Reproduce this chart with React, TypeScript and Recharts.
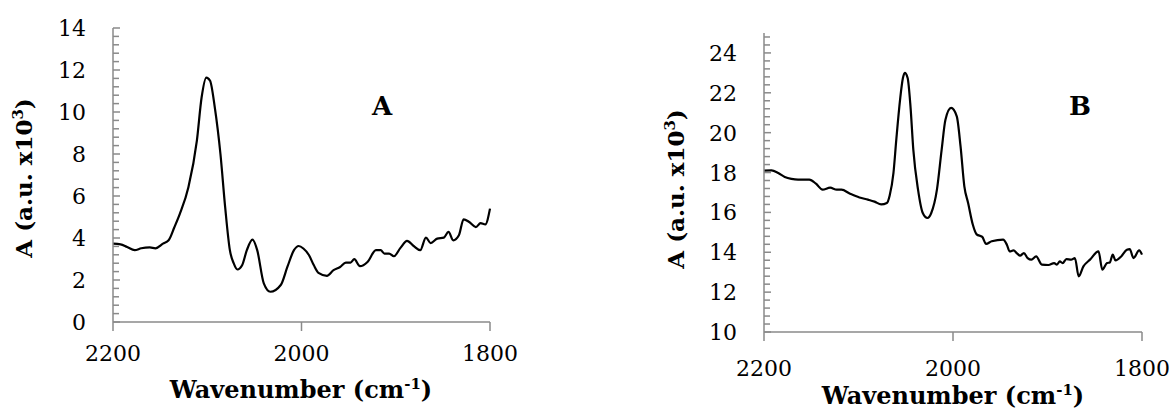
import { LineChart, Line, XAxis, YAxis } from 'recharts';

// panel A
const wnA = [2200, 2192, 2185, 2177, 2170, 2161, 2155, 2147, 2141, 2135, 2129, 2120, 2111, 2106, 2101, 2097, 2092, 2086, 2081, 2076, 2072, 2068, 2063, 2058, 2052, 2047, 2040, 2033, 2022, 2015, 2008, 2003, 1998, 1992, 1987, 1982, 1973, 1966, 1959, 1953, 1948, 1944, 1938, 1930, 1921, 1916, 1912, 1907, 1902, 1895, 1888, 1881, 1874, 1868, 1863, 1856, 1849, 1844, 1839, 1833, 1828, 1822, 1815, 1810, 1805, 1800];
const absA = [3.73, 3.7, 3.57, 3.42, 3.51, 3.55, 3.51, 3.73, 3.89, 4.5, 5.16, 6.42, 8.64, 10.69, 11.64, 11.49, 10.22, 8.0, 5.47, 3.42, 2.8, 2.5, 2.7, 3.42, 3.92, 3.42, 1.84, 1.44, 1.76, 2.62, 3.42, 3.62, 3.5, 3.18, 2.71, 2.34, 2.2, 2.47, 2.62, 2.83, 2.83, 2.99, 2.66, 2.86, 3.42, 3.42, 3.26, 3.26, 3.13, 3.53, 3.86, 3.62, 3.42, 4.02, 3.76, 3.97, 4.02, 4.29, 3.89, 4.13, 4.89, 4.76, 4.52, 4.71, 4.65, 5.4];

// panel B
const wnB = [2200, 2192, 2185, 2178, 2171, 2164, 2152, 2145, 2138, 2130, 2123, 2118, 2109, 2099, 2090, 2083, 2076, 2070, 2067, 2063, 2060, 2056, 2053, 2051, 2048, 2045, 2042, 2037, 2032, 2027, 2023, 2017, 2012, 2008, 2002, 1996, 1992, 1988, 1984, 1979, 1975, 1969, 1965, 1959, 1947, 1943, 1940, 1936, 1932, 1929, 1925, 1921, 1917, 1912, 1906, 1899, 1893, 1890, 1887, 1884, 1880, 1875, 1871, 1867, 1862, 1855, 1846, 1842, 1837, 1834, 1831, 1828, 1822, 1816, 1813, 1809, 1803, 1800];
const absB = [18.1, 18.11, 17.98, 17.78, 17.68, 17.64, 17.64, 17.44, 17.14, 17.24, 17.14, 17.14, 16.94, 16.75, 16.64, 16.54, 16.4, 16.47, 16.85, 17.98, 19.65, 21.66, 22.74, 23.0, 22.74, 21.32, 19.15, 17.14, 15.97, 15.72, 15.97, 17.14, 19.15, 20.65, 21.24, 20.82, 19.31, 17.31, 16.47, 15.38, 14.9, 14.77, 14.42, 14.55, 14.63, 14.38, 14.04, 14.09, 13.93, 13.83, 13.96, 13.71, 13.63, 13.79, 13.38, 13.36, 13.46, 13.38, 13.54, 13.46, 13.66, 13.63, 13.71, 12.79, 13.29, 13.63, 14.04, 13.13, 13.46, 13.49, 13.88, 13.59, 13.79, 14.13, 14.16, 13.71, 14.09, 13.88];

const xTicks = [2200, 2000, 1800];
const yTicksA = [0, 2, 4, 6, 8, 10, 12, 14];
const yTicksB = [10, 12, 14, 16, 18, 20, 22, 24];

const AXIS = '#8a8a8a';
const FONT = '"DejaVu Serif", serif';

// minor tick every 0.4 unit, labels only on the major values
const minorTicks = (from: number, to: number) => {
  const out: number[] = [];
  for (let i = 0; from + i * 0.4 <= to + 1e-6; i++) out.push(Math.round((from + i * 0.4) * 10) / 10);
  return out;
};

const YTick = (labels: number[]) => (props: any) => {
  const { x, y, payload } = props;
  const major = labels.includes(payload.value);
  return (
    <g>
      <line x1={x} x2={x + (major ? 7 : 6)} y1={y} y2={y} stroke={AXIS} strokeWidth={1.5} />
      {major && (
        <text x={x - 27} y={y + 8} textAnchor="end" fontFamily={FONT} fontSize={22} fill="#000">
          {payload.value}
        </text>
      )}
    </g>
  );
};

const XTick = (gap: number) => (props: any) => {
  const { x, y, payload } = props;
  return (
    <g>
      <line x1={x} x2={x} y1={y} y2={y + 9} stroke={AXIS} strokeWidth={1.5} />
      <text x={x} y={y + gap} textAnchor="middle" fontFamily={FONT} fontSize={22} fill="#000">
        {payload.value}
      </text>
    </g>
  );
};

const Panel = ({ wn, ab, domain, labels, margin, width, gap }: any) => {
  const data = wn.map((w: number, i: number) => ({ w, a: ab[i] }));
  return (
    <LineChart width={width} height={410} data={data} margin={margin}>
      <XAxis
        type="number"
        dataKey="w"
        domain={[1800, 2200]}
        reversed
        ticks={xTicks}
        interval={0}
        height={30}
        tickSize={0}
        tickMargin={0}
        axisLine={{ stroke: AXIS, strokeWidth: 1.5 }}
        tickLine={false}
        tick={XTick(gap)}
      />
      <YAxis
        type="number"
        domain={domain}
        ticks={minorTicks(domain[0], domain[1])}
        interval={0}
        width={60}
        tickSize={0}
        tickMargin={0}
        axisLine={{ stroke: AXIS, strokeWidth: 1.5 }}
        tickLine={false}
        tick={YTick(labels)}
      />
      <Line type="monotone" dataKey="a" stroke="#000" strokeWidth={2.2} dot={false} isAnimationActive={false} />
    </LineChart>
  );
};

const Sup = ({ children }: any) => (
  <>
    <tspan dy={-9} fontSize={15}>{children}</tspan>
    <tspan dy={9}>)</tspan>
  </>
);

export default function App() {
  return (
    <div style={{ position: 'absolute', left: 0, top: 0, width: 1173, height: 410, background: '#fff', overflow: 'hidden' }}>
      <div style={{ position: 'absolute', left: 0, top: 0 }}>
        <Panel wn={wnA} ab={absA} domain={[0, 14]} labels={yTicksA} width={586} gap={39}
          margin={{ top: 28, right: 96, left: 53, bottom: 58 }} />
      </div>
      <div style={{ position: 'absolute', left: 586, top: 0 }}>
        <Panel wn={wnB} ab={absB} domain={[10, 25]} labels={yTicksB} width={587} gap={44}
          margin={{ top: 33, right: 31, left: 118, bottom: 48 }} />
      </div>
      <svg width={1173} height={410} style={{ position: 'absolute', left: 0, top: 0, pointerEvents: 'none' }}>
        <g fontFamily={FONT} fontWeight="bold" fill="#000">
          <text x={301} y={398} textAnchor="middle" fontSize={24}>
            Wavenumber (cm<Sup>-1</Sup>
          </text>
          <text x={953} y={404} textAnchor="middle" fontSize={24}>
            Wavenumber (cm<Sup>-1</Sup>
          </text>
          <text x={32} y={178} textAnchor="middle" fontSize={23} transform="rotate(-90 32 178)">
            A (a.u. x10<Sup>3</Sup>
          </text>
          <text x={684} y={189} textAnchor="middle" fontSize={23} transform="rotate(-90 684 189)">
            A (a.u. x10<Sup>3</Sup>
          </text>
          <text x={382} y={115} textAnchor="middle" fontSize={26}>A</text>
          <text x={1080} y={115} textAnchor="middle" fontSize={26}>B</text>
        </g>
      </svg>
    </div>
  );
}
